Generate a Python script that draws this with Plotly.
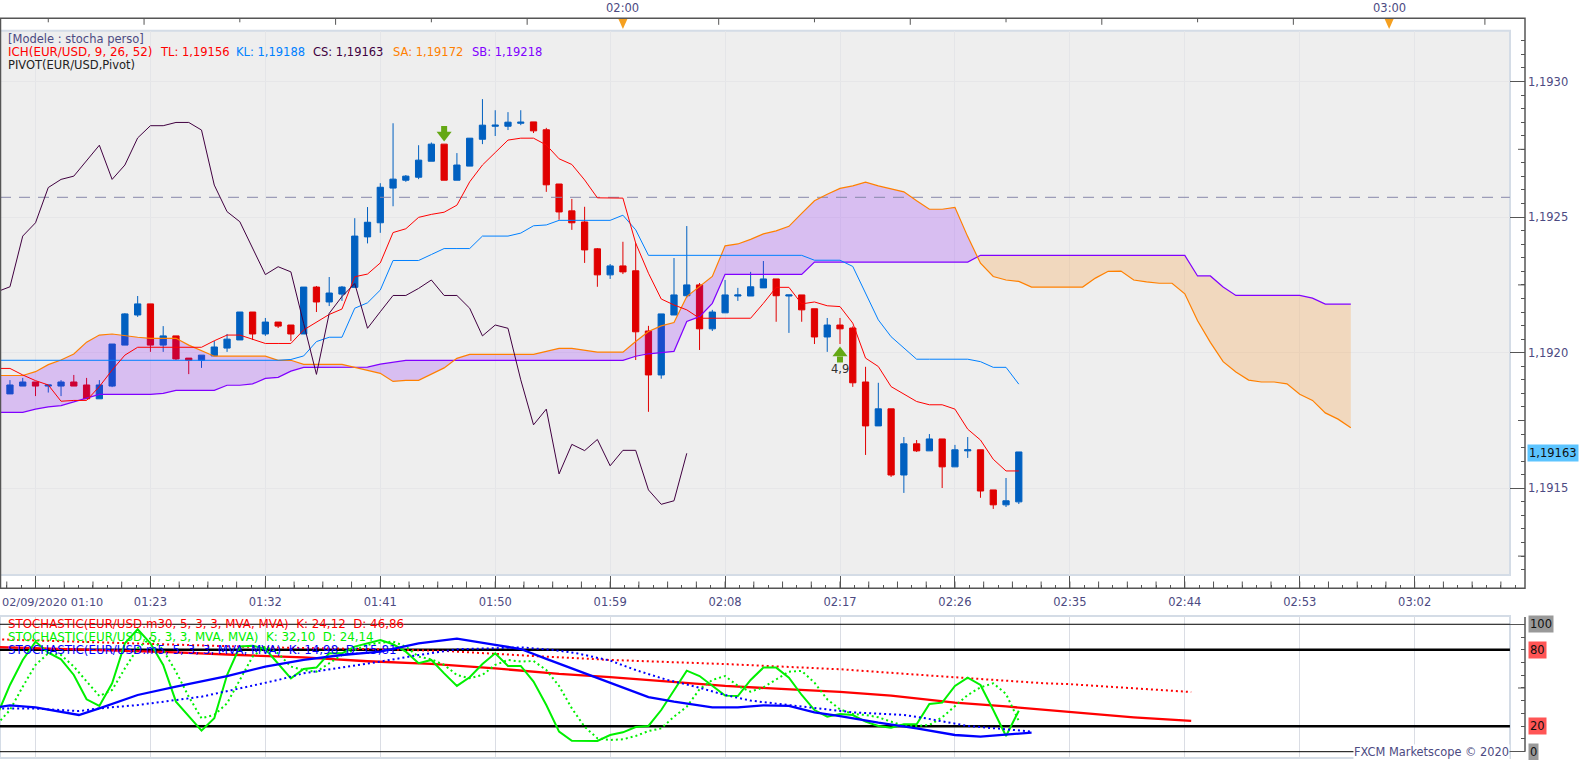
import plotly.graph_objects as go

# prices are kept in points above 1.19000 (183.5 -> 1.191835)
candle_minutes = list(range(71, 152))
opens = [183.5, 184.8, 187.7, 189.2, 187.7, 187.7, 189.2, 188.1, 183, 187.7,
         202.8, 213.9, 218, 202.8, 206.2, 198, 197.2, 198.8, 201.7, 204.7,
         215, 206.9, 211.3, 210.2, 206.9, 224.2, 218.7, 221.6, 224.1, 242.7,
         247.9, 260.7, 263.6, 264.7, 270.6, 276.9, 263.6, 268.8, 278.7, 283.5,
         283.5, 284.6, 285.1, 282.2, 262.2, 252.3, 248.2, 238.3, 228.7, 232,
         230.2, 208, 191.8, 213.9, 221, 225, 208.8, 214.7, 220.9, 220.9,
         223.9, 227.2, 220.9, 221.3, 216.2, 205.8, 210.2, 209.1, 189.2, 173,
         179.3, 154.9, 166.4, 163.8, 168.2, 157.9, 163.8, 164.2, 149.4, 143.9, 145]
highs = [185.3, 189.9, 190.7, 189.2, 188.1, 189.9, 191.8, 190.7, 189.9, 203.2,
         214.6, 220.9, 218, 209.8, 206.2, 198, 199.1, 204.3, 206.9, 215,
         215, 212.8, 211.3, 210.2, 224.2, 224.6, 227.9, 224.6, 249.6, 253.7,
         262.5, 284.6, 265.5, 276.5, 277.5, 276.9, 273.6, 279.1, 293.5, 289.4,
         288.7, 289.4, 285.1, 282.9, 262.2, 256.7, 253.8, 238.6, 232.7, 240.9,
         240.4, 209.9, 214.3, 234.9, 246.7, 225.7, 215.8, 226.8, 223.9, 229.8,
         233.8, 227.2, 221.3, 221.3, 216.2, 212.8, 212.8, 209.7, 194.8, 188.9,
         179.3, 168.9, 167.8, 170, 168.2, 166, 168.9, 164.2, 149.4, 153.8, 163.4]
lows = [183.5, 184.8, 187.7, 184, 185.3, 184, 187.7, 183, 183, 187.3,
        202.8, 213.2, 200.3, 200.3, 197.3, 192.1, 194.4, 198.8, 200.3, 204.7,
        204.7, 206.2, 209.1, 204.3, 206.9, 215, 217.2, 219.1, 224.1, 240.3,
        244.2, 254, 263, 264, 270.6, 263.6, 263.6, 268.8, 276.9, 279.9,
        282.1, 283.9, 281, 259.3, 249, 245.3, 233.1, 224.3, 227.2, 229,
        197.3, 178.2, 190.4, 213.9, 220.2, 201, 208, 214.7, 219.1, 220.9,
        223.9, 211.4, 207.3, 211.4, 203.2, 200.3, 203.2, 187.4, 162.3, 173,
        154.2, 148.3, 163.4, 163.8, 150.1, 157.9, 161.2, 146.5, 142.4, 143.1, 144.2]
closes = [185.3, 188.1, 189.2, 187.7, 188.1, 189.2, 187.7, 183, 188.1, 203.2,
          214.3, 218, 202.8, 206.2, 197.7, 197.2, 199.1, 202.1, 205, 215,
          206.9, 211.3, 209.8, 206.9, 224.2, 218.7, 222, 224.2, 243, 248.1,
          261, 264, 265.1, 271, 276.9, 263.6, 269.2, 279.1, 283.9, 283.9,
          285, 285, 281.8, 261.9, 251.9, 247.9, 237.9, 228.7, 232, 229.8,
          207.7, 191.8, 214.3, 221.3, 225, 208.8, 215, 221.3, 221.3, 224.3,
          227.2, 221, 221.3, 215.8, 205.8, 210.2, 208.8, 188.9, 173, 179.3,
          154.9, 166.4, 163.8, 168.2, 157.9, 164.2, 164.2, 149, 143.9, 145.4, 163.4]

# ichimoku lines
tl_values = [194.2, 194.2, 191.8, 189.7, 188.1, 182.1, 182.4, 182.4, 187.5, 193.6,
             199.1, 202, 202, 202, 202, 202, 202, 204.4, 206.5, 206.5,
             204.9, 203.4, 203.4, 203.4, 208.4, 211.4, 214.1, 216.1, 228, 229,
             233.1, 244.3, 245.7, 249.9, 251, 251.8, 254.4, 263, 269.2, 273.8,
             278.4, 279.1, 279.1, 276.6, 271.5, 269.4, 263.7, 257.1, 257, 257,
             240.4, 229.3, 219.8, 217.6, 215.8, 212.7, 212.7, 212.7, 212.7, 212.7,
             218.2, 224.1, 224.1, 218, 218.7, 217.3, 217, 210.9, 198, 194.9,
             187.5, 184.8, 182, 180.8, 180.8, 179.2, 171.8, 167.8, 160.7, 156.4, 156.4]
kl_values = [197.2, 197.2, 197.2, 197.2, 197.2, 197.2, 197.2, 197.2, 197.2, 197.2,
             197.2, 197.2, 197.2, 197.2, 197.2, 197.2, 197.2, 197.2, 197.2, 197.2,
             197.2, 197.2, 197.2, 197.5, 198.8, 204.1, 205.7, 205.7, 216.4, 218.4,
             223.1, 234, 234, 234, 236.2, 238.4, 238.4, 238.4, 243, 243,
             243, 244.1, 246.8, 247.1, 248.8, 248.8, 248.8, 248.8, 248.8, 250.7,
             245.3, 235.9, 235.9, 235.9, 235.9, 235.9, 235.9, 235.9, 235.9, 235.9,
             235.9, 235.9, 235.9, 235.9, 234.1, 234.1, 234.1, 231.8, 221.9, 212.1,
             205.9, 201.6, 197.6, 197.6, 197.6, 197.6, 197.6, 196.7, 194.6, 194.6, 188.4]
cs_values = [222.5, 224.3, 243, 247.9, 260.9, 263.9, 265.1, 271, 276.5, 263.9,
             269.2, 279.2, 283.7, 283.7, 284.9, 284.9, 282.1, 261.8, 252, 248.3,
             238.4, 228.8, 231.7, 229.8, 210.8, 192, 214.5, 220.7, 225.5, 209,
             215.1, 221.1, 221.1, 223.7, 226.8, 221.1, 221.1, 216.4, 206.2, 210.2,
             209, 190, 173.4, 179.2, 155.3, 166.2, 163.9, 168, 158.3, 164,
             164, 149.4, 144.1, 145.4, 162.9]
cloud_minutes = list(range(71, 178))
sa_values = [191.6, 191.6, 191.6, 193, 195.6, 197.3, 199.5, 203.9, 206.5, 206.9,
             206.2, 205.7, 205.3, 205.4, 205.3, 202.8, 200.6, 198.7, 198.7, 198.7,
             198.7, 198.7, 197.2, 197.2, 195.7, 195.7, 195.7, 195.7, 194.6, 193.5,
             192.4, 189.4, 189.8, 189.8, 192, 194.4, 197.9, 199.4, 199.4, 199.4,
             199.4, 199.4, 199.4, 200.5, 201.6, 201.6, 200.9, 200.2, 200.2, 200.2,
             204.1, 207.8, 209.9, 211.1, 220.7, 224.4, 228.1, 239.4, 240.1, 241.8,
             243.8, 244.9, 246.6, 251.4, 256, 258.4, 260.6, 261.5, 262.9, 261.5,
             260.3, 259.3, 256, 252.9, 252.9, 253.6, 242.8, 233, 228.1, 226.8,
             226.3, 224.2, 224.2, 224.2, 224.2, 224.2, 227.5, 230, 230.1, 226.8,
             226.1, 225.6, 225.6, 221.7, 211.8, 203.8, 196.7, 192.9, 189.9, 189.2,
             189.2, 188.5, 184.7, 182.4, 177.8, 175.5, 172.3]
sb_values = [178, 178, 178, 179.2, 180, 180.5, 181.9, 183.4, 184.6, 184.6,
             184.6, 184.6, 184.6, 185, 186.1, 186.1, 186.1, 186.1, 188, 188,
             188.5, 190.5, 190.9, 193.2, 194.6, 194.6, 194.6, 194.6, 194.6, 194.7,
             195.8, 196.4, 197.2, 197.2, 197.2, 197.2, 197.2, 197.2, 197.2, 197.2,
             197.2, 197.2, 197.2, 197.2, 197.2, 197.2, 197.2, 197.2, 197.2, 197.2,
             198.7, 199.6, 200, 200.5, 211.5, 213.3, 218.2, 228.9, 228.9, 228.9,
             228.9, 228.9, 228.9, 228.9, 233.4, 233.4, 233.4, 233.4, 233.4, 233.4,
             233.4, 233.4, 233.4, 233.4, 233.4, 233.4, 233.4, 235.9, 235.9, 235.9,
             235.9, 235.9, 235.9, 235.9, 235.9, 235.9, 235.9, 235.9, 235.9, 235.9,
             235.9, 235.9, 235.9, 235.9, 228.3, 228.3, 224.2, 221.1, 221.1, 221.1,
             221.1, 221.1, 221.1, 220.1, 217.9, 217.9, 217.9]
pivot_level = 257.3
last_price = 163

# stochastics
green_k = [28.8, 52.4, 72, 86.4, 77.7, 72.5, 60.2, 41.1, 35.9, 53.7,
           85.1, 96.1, 85.1, 68.1, 39.3, 27.5, 16.5, 26.2, 60.2, 82.5,
           83.2, 80.6, 69.4, 57.6, 64.9, 66, 77.2, 77.2, 82.5, 85.1,
           87.7, 84.3, 78.5, 69.4, 72, 61.5, 51.6, 58.4, 68.8, 77.2,
           67.3, 67.3, 55, 36.6, 15.7, 8.6, 8.4, 8.4, 13.1, 15.2,
           19.4, 20.2, 32.7, 48.4, 63.6, 59.4, 51.6, 44, 43.7, 56.3,
           66, 66, 58.1, 44.5, 32.7, 27.5, 29.6, 28.8, 23.6, 20.2,
           18.8, 21.5, 21.5, 37.4, 38.5, 51.6, 58.1, 52.4, 32.7, 12.3, 32.1]
green_d = [21.7, 32.7, 51, 68.1, 77.2, 75.9, 66.8, 55, 43.7, 48.4,
           65.4, 81.2, 89, 79.8, 62.8, 43.2, 26.2, 28.8, 38, 56.3,
           74.6, 82.5, 77.2, 66.8, 64.1, 62.8, 69.4, 75.9, 79.8, 83.8,
           85.6, 86.4, 82.5, 74.6, 72.5, 68.1, 60.2, 57.6, 60.2, 68.1,
           72, 70.7, 71.2, 64.1, 51.6, 34, 19.6, 10.5, 9.2, 9.7,
           12.3, 16.2, 18.3, 27.5, 35.3, 49, 56.3, 59.4, 51.6, 47.1,
           50.5, 56.8, 62.8, 63.4, 54.2, 41.1, 33.2, 29.6, 28.8, 27,
           23.6, 20.2, 20.2, 20.9, 27, 35.9, 44.5, 50.5, 53.7, 45.3, 24.14]
blue_k_x = [71, 72, 74, 76, 77.4, 79, 82, 85, 89, 92, 95, 98, 101, 104, 107, 110, 112, 114, 116,
            119, 122, 124, 127, 129, 131, 133, 135, 137, 140, 143, 146, 148, 150, 152]
blue_k = [34.8, 36.4, 34.8, 31.4, 28.8, 34, 44.5, 51, 59.4, 66.8, 72, 75.9, 78.5, 85.1, 88.7, 83.8, 80.6, 72.8, 65.4,
          54.5, 42.9, 39.3, 34.8, 34.8, 36.4, 35.9, 30.9, 28, 22.8, 18.3, 13.1, 11.8, 13.6, 14.98]
blue_d_x = [71, 74, 77.4, 79, 82, 85, 87, 90, 93, 95, 98, 101, 104, 107, 110, 112, 114.6, 116.4,
            119, 121, 123.3, 125.7, 128, 130, 133, 136, 138, 142, 143.7, 147, 149, 152]
blue_d = [34, 33.8, 31.9, 34, 36.6, 40.6, 43.2, 49.7, 56.3, 61.5, 66, 70.7, 75.9, 80.4, 81.2, 81.9, 79.8, 77.2,
          71.5, 64.1, 56.8, 51, 44.5, 40.1, 36.6, 33.2, 30.9, 28.8, 26.2, 20.2, 18.3, 15.81]
red_k_x = [71, 75, 80, 85, 90, 95, 100, 105, 110, 112, 115, 119, 124, 128, 132, 137, 141, 146, 150, 155, 160, 164.5]
red_k = [82.2, 81, 79.8, 78, 75.9, 74, 71, 69, 65.4, 63.4, 61, 58.6, 55, 51.6, 49.5, 46.9, 44, 38.5, 35.5, 31.4, 27, 24.12]
red_d_x = [71, 79, 84.5, 92, 101, 106, 113, 119, 128, 137, 146, 153, 155, 164.5]
red_d = [88.2, 85.9, 84.6, 81.9, 80.4, 79.1, 75.1, 72, 68.8, 64.7, 58.4, 53.7, 53, 46.86]
level_values = [100, 80, 20, 0]
level_widths = [1, 2.5, 2.5, 1]

time_minutes = [74, 83, 92, 101, 110, 119, 128, 137, 146, 155, 164, 173, 182]
time_labels = ['', '01:23', '01:32', '01:41', '01:50', '01:59', '02:08', '02:17',
               '02:26', '02:35', '02:44', '02:53', '03:02']
hour_minutes = [120, 180]
hour_labels = ['02:00', '03:00']

WIDTH = 1583
HEIGHT = 760
FONT = 'DejaVu Sans'
TEXT = '#4c4a82'
AXIS = '#555555'
X_LEFT, X_RIGHT = 71.22, 190.64
PANEL_RIGHT = 189.46

RED = '#ff0000'
SKY = '#0080ff'
PLUM = '#400040'
ORANGE = '#ff8000'
VIOLET = '#8000ff'


def price(values):
    return [1.19 + v / 100000 for v in values]


def py(pixels):
    return 1 - pixels / HEIGHT


def pxx(pixels):
    return pixels / WIDTH


def cloud_polygons():
    """split the cloud where SA and SB cross, one polygon for each run"""
    runs = []
    xs, sa, sb = [cloud_minutes[0]], [sa_values[0]], [sb_values[0]]
    for i in range(1, len(cloud_minutes)):
        before = sa_values[i - 1] - sb_values[i - 1]
        after = sa_values[i] - sb_values[i]
        if before * after < 0:
            t = before / (before - after)
            cross_x = cloud_minutes[i - 1] + t
            cross_y = sa_values[i - 1] + t * (sa_values[i] - sa_values[i - 1])
            runs.append((xs + [cross_x], sa + [cross_y], sb + [cross_y]))
            xs, sa, sb = [cross_x], [cross_y], [cross_y]
        xs.append(cloud_minutes[i])
        sa.append(sa_values[i])
        sb.append(sb_values[i])
    runs.append((xs, sa, sb))
    return runs


fig = go.Figure()

fig.add_trace(go.Candlestick(
    x=candle_minutes, open=price(opens), high=price(highs), low=price(lows), close=price(closes),
    increasing=dict(line=dict(color='#0060c0', width=1), fillcolor='#0060c0'),
    decreasing=dict(line=dict(color='#e00000', width=1), fillcolor='#e00000'),
    whiskerwidth=0, xaxis='x', yaxis='y'))

for xs, sa, sb in cloud_polygons():
    rising = sum(sa) > sum(sb)
    fig.add_trace(go.Scatter(
        x=xs + xs[::-1], y=price(sa) + price(sb)[::-1], mode='lines', line=dict(width=0),
        fill='toself', fillcolor='rgba(128,0,255,0.2)' if rising else 'rgba(255,128,0,0.2)',
        xaxis='x', yaxis='y'))

fig.add_trace(go.Scatter(x=[X_LEFT, PANEL_RIGHT], y=price([pivot_level, pivot_level]), mode='lines',
                         line=dict(color='#8888aa', width=1, dash='11px,8px'), xaxis='x', yaxis='y'))
fig.add_trace(go.Scatter(x=cloud_minutes, y=price(sb_values), mode='lines', line=dict(color=VIOLET, width=1.2),
                         xaxis='x', yaxis='y'))
fig.add_trace(go.Scatter(x=cloud_minutes, y=price(sa_values), mode='lines', line=dict(color=ORANGE, width=1.2),
                         xaxis='x', yaxis='y'))
fig.add_trace(go.Scatter(x=candle_minutes, y=price(kl_values), mode='lines', line=dict(color=SKY, width=1),
                         xaxis='x', yaxis='y'))
fig.add_trace(go.Scatter(x=candle_minutes, y=price(tl_values), mode='lines', line=dict(color=RED, width=1),
                         xaxis='x', yaxis='y'))
fig.add_trace(go.Scatter(x=candle_minutes[:len(cs_values)], y=price(cs_values), mode='lines',
                         line=dict(color=PLUM, width=1), xaxis='x', yaxis='y'))

# the two green signal arrows, head and stem
fig.add_trace(go.Scatter(x=[106], y=price([280.3]), mode='markers',
                         marker=dict(symbol='triangle-down', size=13, color='#64a814'), xaxis='x', yaxis='y'))
fig.add_trace(go.Scatter(x=[106], y=price([282.5]), mode='markers',
                         marker=dict(symbol='square', size=6, color='#64a814'), xaxis='x', yaxis='y'))
fig.add_trace(go.Scatter(x=[137], y=price([199.9]), mode='markers',
                         marker=dict(symbol='triangle-up', size=13, color='#64a814'), xaxis='x', yaxis='y'))
fig.add_trace(go.Scatter(x=[137], y=price([197.5]), mode='markers',
                         marker=dict(symbol='square', size=6, color='#64a814'), xaxis='x', yaxis='y'))

for value, width in zip(level_values, level_widths):
    fig.add_trace(go.Scatter(x=[X_LEFT, PANEL_RIGHT], y=[value, value], mode='lines',
                             line=dict(color='black', width=width), xaxis='x2', yaxis='y2'))

dots = '2px,3px'
fig.add_trace(go.Scatter(x=red_d_x, y=red_d, mode='lines', line=dict(color=RED, width=2, dash=dots),
                         xaxis='x2', yaxis='y2'))
fig.add_trace(go.Scatter(x=red_k_x, y=red_k, mode='lines', line=dict(color=RED, width=2.3),
                         xaxis='x2', yaxis='y2'))
fig.add_trace(go.Scatter(x=candle_minutes, y=green_d, mode='lines',
                         line=dict(color='#00f000', width=2, dash=dots), xaxis='x2', yaxis='y2'))
fig.add_trace(go.Scatter(x=candle_minutes, y=green_k, mode='lines', line=dict(color='#00f000', width=2),
                         xaxis='x2', yaxis='y2'))
fig.add_trace(go.Scatter(x=blue_d_x, y=blue_d, mode='lines', line=dict(color='#0000ff', width=2, dash=dots),
                         xaxis='x2', yaxis='y2'))
fig.add_trace(go.Scatter(x=blue_k_x, y=blue_k, mode='lines', line=dict(color='#0000ff', width=2.3),
                         xaxis='x2', yaxis='y2'))

# panels and axis frame
shapes = [
    dict(type='rect', xref='paper', yref='paper', x0=pxx(0), x1=pxx(1510), y0=py(575), y1=py(30.7), layer='below',
         fillcolor='#eeeeee', line=dict(color='#d4dce6', width=2)),
    dict(type='rect', xref='paper', yref='paper', x0=pxx(0), x1=pxx(1510), y0=py(758), y1=py(616), layer='below',
         fillcolor='white', line=dict(color='#d4dce6', width=2)),
    dict(type='rect', xref='paper', yref='paper', x0=pxx(0.5), x1=pxx(1525), y0=py(588.3), y1=py(18.3), layer='above',
         line=dict(color=AXIS, width=1.5)),
    dict(type='line', xref='paper', yref='paper', x0=pxx(1525), x1=pxx(1525), y0=py(751.7), y1=py(617), layer='above',
         line=dict(color=AXIS, width=1.5)),
]
# top axis ticks, every 7.5 minutes
n = 0
while 75 + 7.5 * n < X_RIGHT:
    length = 6.5 if n % 2 == 1 else 4
    shapes.append(dict(type='line', xref='x', yref='paper', x0=75 + 7.5 * n, x1=75 + 7.5 * n,
                       y0=py(18.3), y1=py(18.3 + length), line=dict(color=AXIS, width=1)))
    n += 1
# hour markers under the top axis
for minute in hour_minutes:
    shapes.append(dict(type='path', xref='x', yref='paper', fillcolor='#f5a020', line=dict(color='#f5a020', width=0),
                       path=f'M {minute - 0.35} {py(19)} L {minute + 0.35} {py(19)} L {minute} {py(29)} Z'))
# taller bottom ticks between the minor ones
n = 0
while 71.75 + 2.25 * n < 189.5:
    shapes.append(dict(type='line', xref='x', yref='paper', x0=71.75 + 2.25 * n, x1=71.75 + 2.25 * n,
                       y0=py(588.3), y1=py(581.5), line=dict(color=AXIS, width=1)))
    n += 1
# longer price ticks halfway between the labels
for i in range(8):
    shapes.append(dict(type='line', xref='paper', yref='y', x0=pxx(1518), x1=pxx(1525),
                       y0=1.19125 + 0.0005 * i, y1=1.19125 + 0.0005 * i, line=dict(color=AXIS, width=1)))
shapes.append(dict(type='line', xref='paper', yref='y2', x0=pxx(1518), x1=pxx(1525), y0=50, y1=50,
                   line=dict(color=AXIS, width=1)))

annotations = []


def note(text, x, y, color=TEXT, anchor='left', size=11.5, **kw):
    annotations.append(dict(text=text, x=pxx(x), y=py(y), xref='paper', yref='paper', showarrow=False,
                            xanchor=anchor, yanchor='middle', align=anchor,
                            font=dict(family=FONT, size=size, color=color), borderpad=0, **kw))


note('[Modele : stocha perso]', 7, 39)
note('ICH(EUR/USD, 9, 26, 52)', 7, 52, RED, size=11.9)
note('TL: 1,19156', 159, 52, RED)
note('KL: 1,19188', 234.6, 52, SKY)
note('CS: 1,19163', 311.5, 52, PLUM)
note('SA: 1,19172', 392, 52, ORANGE)
note('SB: 1,19218', 471, 52, VIOLET)
note('PIVOT(EUR/USD,Pivot)', 7, 65, '#222222')
note('STOCHASTIC(EUR/USD.m30, 5, 3, 3, MVA, MVA)  K: 24,12  D: 46,86', 7, 624, RED, size=11.85)
note('STOCHASTIC(EUR/USD, 5, 3, 3, MVA, MVA)  K: 32,10  D: 24,14', 7, 637, '#00f000', size=11.85)
note('STOCHASTIC(EUR/USD.m5, 5, 3, 3, MVA, MVA)  K: 14,98  D: 15,81', 7, 650, '#0000ff', size=11.85)
note('FXCM Marketscope © 2020', 1510, 752, anchor='right', size=11.4, bgcolor='white')
note('02/09/2020 01:10', 1, 602, size=11.3)

for minute, label in zip(hour_minutes, hour_labels):
    annotations.append(dict(text=label, x=minute, y=py(8), xref='x', yref='paper', showarrow=False, yanchor='middle',
                            font=dict(family=FONT, size=11.5, color=TEXT)))
annotations.append(dict(text='4,9', x=137, y=1.19 + 193.9 / 100000, xref='x', yref='y', showarrow=False,
                        font=dict(family=FONT, size=11.5, color='#303030')))
annotations.append(dict(text='1,19163', x=pxx(1527), y=1.19 + last_price / 100000, xref='paper', yref='y',
                        showarrow=False, xanchor='left', bgcolor='#5cc4ff', borderpad=1,
                        font=dict(family=FONT, size=11.5, color='#101010')))
for value, label, color in [(100, '100', '#999999'), (80, '80', '#ff5555'), (20, '20', '#ff5555'), (0, '0', '#999999')]:
    annotations.append(dict(text=label, x=pxx(1528), y=value, xref='paper', yref='y2', showarrow=False,
                            xanchor='left', bgcolor=color, borderpad=1,
                            font=dict(family=FONT, size=11.5, color='#101010')))

fig.update_layout(
    width=WIDTH, height=HEIGHT, margin=dict(l=0, r=0, t=0, b=0), autosize=False,
    paper_bgcolor='white', plot_bgcolor='rgba(0,0,0,0)', showlegend=False, hovermode=False,
    separators=',.', boxgap=0.3, shapes=shapes, annotations=annotations,
    xaxis=dict(domain=[0, pxx(1525)], range=[X_LEFT, X_RIGHT], anchor='free', position=py(588.3),
               rangeslider=dict(visible=False), tickmode='array', tickvals=time_minutes, ticktext=time_labels,
               ticks='inside', ticklen=12.5, tickcolor=AXIS, tickwidth=1, ticklabelstandoff=5,
               minor=dict(ticks='inside', dtick=1.125, tick0=71.75, ticklen=3.5, tickcolor=AXIS, showgrid=False),
               showgrid=True, gridcolor='#e4e5e8', gridwidth=1, zeroline=False,
               tickfont=dict(family=FONT, size=11.5, color=TEXT)),
    xaxis2=dict(domain=[0, pxx(1525)], range=[X_LEFT, X_RIGHT], matches='x', anchor='y2', showticklabels=False,
                tickmode='array', tickvals=time_minutes, ticks='', showgrid=True, gridcolor='#dadde4', zeroline=False),
    yaxis=dict(domain=[py(575), py(30.7)], range=[1.1911803, 1.1931873], side='right', anchor='x', dtick=0.0005,
               tick0=1.19, tickformat='.4f', ticks='inside', ticklen=15, tickcolor=AXIS, tickwidth=1,
               ticklabelstandoff=2,
               minor=dict(ticks='inside', dtick=0.00005, ticklen=4, tickcolor=AXIS, showgrid=False),
               showgrid=True, gridcolor='#e6e6e8', zeroline=False, tickfont=dict(family=FONT, size=11.5, color=TEXT)),
    yaxis2=dict(domain=[py(758), py(616)], range=[-4.95, 106.5], side='right', anchor='x2', dtick=100, tick0=0,
                ticks='inside', ticklen=15, tickcolor=AXIS, showticklabels=False, showgrid=False, zeroline=False,
                minor=dict(ticks='inside', dtick=10, ticklen=4, tickcolor=AXIS, showgrid=False)),
)

# the page's default 8px body margin would push the picture off the window
fig.write_html("out.html", config=dict(displayModeBar=False), post_script="document.body.style.margin='0';")
